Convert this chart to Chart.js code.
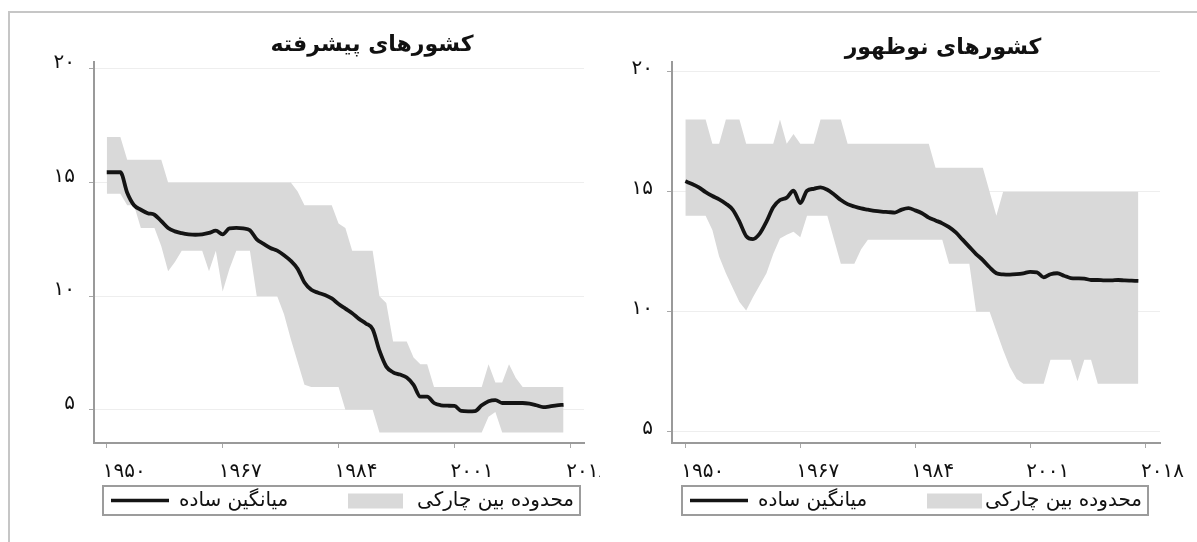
<!DOCTYPE html>
<html>
<head>
<meta charset="utf-8">
<script src="https://cdn.jsdelivr.net/npm/chart.js@4.4.1/dist/chart.umd.min.js"></script>
<style>
  body { margin: 0; background: #fff; }
  #wrap { position: relative; width: 1197px; height: 542px; overflow: hidden; }
  #frame { position: absolute; left: 8px; top: 11px; width: 1189px; height: 531px;
           border-top: 2px solid #c6c6c6; border-left: 2px solid #c6c6c6; }
  canvas { position: absolute; top: 0; }
</style>
</head>
<body>
<div id="wrap">
  <div id="frame"></div>
  <canvas id="adv" width="600" height="542" style="left:0"></canvas>
  <canvas id="emg" width="597" height="542" style="left:600px"></canvas>
</div>
<script>
// years on the x axis
const years = [
  1950, 1951, 1952, 1953, 1954, 1955, 1956, 1957, 1958, 1959,
  1960, 1961, 1962, 1963, 1964, 1965, 1966, 1967, 1968, 1969,
  1970, 1971, 1972, 1973, 1974, 1975, 1976, 1977, 1978, 1979,
  1980, 1981, 1982, 1983, 1984, 1985, 1986, 1987, 1988, 1989,
  1990, 1991, 1992, 1993, 1994, 1995, 1996, 1997, 1998, 1999,
  2000, 2001, 2002, 2003, 2004, 2005, 2006, 2007, 2008, 2009,
  2010, 2011, 2012, 2013, 2014, 2015, 2016, 2017
];

// advanced countries
const advMean = [
  15.45, 15.45, 15.45, 14.55, 14.0, 13.8, 13.65, 13.58, 13.3, 13.0,
  12.85, 12.77, 12.72, 12.7, 12.72, 12.78, 12.88, 12.72, 12.98, 13.0,
  12.98, 12.9, 12.5, 12.3, 12.12, 12.0, 11.8, 11.55, 11.2, 10.6,
  10.28, 10.15, 10.05, 9.9, 9.65, 9.45, 9.25, 9.0, 8.8, 8.55,
  7.6, 6.9, 6.65, 6.55, 6.42, 6.1, 5.58, 5.58, 5.3, 5.2,
  5.18, 5.17, 4.95, 4.93, 4.94, 5.2, 5.38, 5.43, 5.3, 5.3,
  5.3, 5.3, 5.27, 5.2, 5.12, 5.15, 5.2, 5.22
];
const advHigh = [
  17, 17, 17, 16, 16, 16, 16, 16, 16, 15,
  15, 15, 15, 15, 15, 15, 15, 15, 15, 15,
  15, 15, 15, 15, 15, 15, 15, 15, 14.6, 14,
  14, 14, 14, 14, 13.2, 13, 12, 12, 12, 12,
  10, 9.7, 8, 8, 8, 7.3, 7, 7, 6, 6,
  6, 6, 6, 6, 6, 6, 7, 6.2, 6.2, 7,
  6.4, 6, 6, 6, 6, 6, 6, 6
];
const advLow = [
  14.5, 14.5, 14.5, 14, 14, 13, 13, 13, 12.2, 11.1,
  11.5, 12, 12, 12, 12, 11.1, 12, 10.2, 11.2, 12,
  12, 12, 10, 10, 10, 10, 9.2, 8.1, 7.1, 6.1,
  6, 6, 6, 6, 6, 5, 5, 5, 5, 5,
  4, 4, 4, 4, 4, 4, 4, 4, 4, 4,
  4, 4, 4, 4, 4, 4, 4.7, 4.9, 4, 4,
  4, 4, 4, 4, 4, 4, 4, 4
];

// emerging countries
const emgMean = [
  15.43, 15.32, 15.18, 14.98, 14.82, 14.68, 14.5, 14.25, 13.75, 13.15,
  13.02, 13.25, 13.75, 14.35, 14.65, 14.75, 15.04, 14.52, 15.04, 15.12,
  15.18, 15.08, 14.88, 14.65, 14.48, 14.38, 14.3, 14.25, 14.2, 14.17,
  14.15, 14.13, 14.25, 14.31, 14.22, 14.1, 13.92, 13.8, 13.68, 13.52,
  13.3, 13.0, 12.7, 12.4, 12.15, 11.85, 11.6, 11.55, 11.54, 11.56,
  11.6, 11.66, 11.64, 11.43, 11.56, 11.6, 11.5, 11.4, 11.39, 11.38,
  11.32, 11.32, 11.3, 11.3, 11.32, 11.3, 11.29, 11.28
];
const emgHigh = [
  18, 18, 18, 18, 17, 17, 18, 18, 18, 17,
  17, 17, 17, 17, 18, 17, 17.4, 17, 17, 17,
  18, 18, 18, 18, 17, 17, 17, 17, 17, 17,
  17, 17, 17, 17, 17, 17, 17, 16, 16, 16,
  16, 16, 16, 16, 16, 15, 14, 15, 15, 15,
  15, 15, 15, 15, 15, 15, 15, 15, 15, 15,
  15, 15, 15, 15, 15, 15, 15, 15
];
const emgLow = [
  14, 14, 14, 14, 13.4, 12.3, 11.6, 11.0, 10.4, 10.05,
  10.6, 11.1, 11.6, 12.4, 13.05, 13.2, 13.33, 13.1, 14, 14,
  14, 14, 13, 12, 12, 12, 12.6, 13, 13, 13,
  13, 13, 13, 13, 13, 13, 13, 13, 13, 12,
  12, 12, 12, 10, 10, 10, 9.2, 8.4, 7.7, 7.2,
  7, 7, 7, 7, 8, 8, 8, 8, 7.1, 8,
  8, 7, 7, 7, 7, 7, 7, 7
];

const xTicks = [1950, 1967, 1984, 2001, 2018];
const yTicks = [5, 10, 15, 20];
const titles = ['کشورهای پیشرفته', 'کشورهای نوظهور'];
const legendLabels = ['میانگین ساده', 'محدوده بین چارکی'];

const faDigits = '۰۱۲۳۴۵۶۷۸۹';
const toFa = v => String(v).replace(/\d/g, d => faDigits[d]);
const pts = arr => years.map((yr, i) => ({ x: yr, y: arr[i] }));

Chart.defaults.font.family = '"DejaVu Sans", sans-serif';
Chart.defaults.color = '#111';

// panel heading, placed over the plot
const panelTitle = {
  id: 'panelTitle',
  afterDraw(chart, args, opts) {
    const ctx = chart.ctx;
    ctx.save();
    ctx.font = 'bold 22px "DejaVu Sans", sans-serif';
    ctx.fillStyle = '#111';
    ctx.textAlign = 'center';
    ctx.textBaseline = 'middle';
    ctx.fillText(opts.text, chart.chartArea.left + opts.dx, opts.y);
    ctx.restore();
  }
};

// boxed legend under the axis: line key + label, band key + label
const panelLegend = {
  id: 'panelLegend',
  afterDraw(chart, args, opts) {
    const ctx = chart.ctx;
    const ds = chart.data.datasets;
    const l = chart.chartArea.left + opts.boxL, r = chart.chartArea.left + opts.boxR;
    const t = opts.top, b = opts.top + 29, cy = (t + b) / 2;
    ctx.save();
    ctx.fillStyle = ds[1].backgroundColor;
    ctx.fillRect(l + 245, cy - 7, 55, 15);
    ctx.strokeStyle = ds[0].borderColor;
    ctx.lineWidth = 3.5;
    ctx.beginPath();
    ctx.moveTo(l + 8, cy);
    ctx.lineTo(l + 66, cy);
    ctx.stroke();
    ctx.font = '20px "DejaVu Sans", sans-serif';
    ctx.fillStyle = '#111';
    ctx.textBaseline = 'middle';
    ctx.textAlign = 'left';
    ctx.fillText(legendLabels[0], l + 76, cy);
    ctx.textAlign = 'right';
    ctx.fillText(legendLabels[1], r - 6, cy);
    ctx.strokeStyle = '#9c9c9c';
    ctx.lineWidth = 2;
    ctx.strokeRect(l, t, r - l, b - t);
    ctx.restore();
  }
};

// keep the plot box fixed; labels may run past it
const noPad = s => { s.paddingLeft = 0; s.paddingRight = 0; s.paddingTop = 0; s.paddingBottom = 0; };

function makePanel(id, mean, low, high, p) {
  const data = {
    datasets: [{
      label: legendLabels[0],
      data: pts(mean),
      borderColor: '#141414',
      borderWidth: 3.8,
      pointRadius: 0,
      cubicInterpolationMode: 'monotone',
      fill: false
    },
    {
      label: legendLabels[1],
      data: pts(high),
      borderColor: '#d9d9d9',
      backgroundColor: '#d9d9d9',
      borderWidth: 0,
      pointRadius: 0,
      tension: 0,
      fill: '+1'
    },
    {
      label: 'low',
      data: pts(low),
      borderColor: '#d9d9d9',
      borderWidth: 0,
      pointRadius: 0,
      tension: 0,
      fill: false
    }]
  };
  const config = {
    type: 'line',
    data: data,
    plugins: [panelTitle, panelLegend],
    options: {
      responsive: false,
      animation: false,
      layout: {
        autoPadding: false,
        padding: { top: 62, right: p.right, bottom: 59, left: 0 }
      },
      plugins: {
        tooltip: { enabled: false },
        legend: { display: false },
        panelTitle: { text: p.title, dx: p.titleDx, y: p.titleY },
        panelLegend: { boxL: p.boxL, boxR: p.boxR, top: 486 }
      },
      scales: {
        x: {
          type: 'linear',
          min: p.xMin,
          max: p.xMax,
          border: { color: '#9a9a9a', width: 2 },
          grid: { drawOnChartArea: false, tickLength: 5, tickColor: '#a8a8a8' },
          ticks: {
            font: { size: 20 },
            color: '#111',
            padding: 12,
            align: 'start',
            labelOffset: -4,
            maxRotation: 0,
            autoSkip: false,
            callback: v => toFa(v)
          },
          afterBuildTicks: s => { s.ticks = xTicks.map(v => ({ value: v })); },
          afterFit: s => { s.height = 40; noPad(s); }
        },
        y: {
          type: 'linear',
          min: p.yMin,
          max: p.yMax,
          border: { color: '#9a9a9a', width: 2 },
          grid: { color: '#eeeeee', lineWidth: 1, tickLength: 5, tickColor: '#a8a8a8' },
          ticks: {
            font: { size: 20 },
            color: '#111',
            padding: 14,
            labelOffset: p.yLabelOffset,
            callback: v => toFa(v)
          },
          afterBuildTicks: s => { s.ticks = yTicks.map(v => ({ value: v })); },
          afterFit: s => { s.width = p.left; noPad(s); }
        }
      }
    }
  };
  return new Chart(document.getElementById(id), config);
}

makePanel('adv', advMean, advLow, advHigh, {
  title: titles[0], titleDx: 278, titleY: 45,
  left: 94, right: 16, boxL: 9, boxR: 486,
  xMin: 1948.13, xMax: 2020, yMin: 3.54, yMax: 20.3, yLabelOffset: -6
});
makePanel('emg', emgMean, emgLow, emgHigh, {
  title: titles[1], titleDx: 271, titleY: 48,
  left: 72, right: 37, boxL: 10, boxR: 476,
  xMin: 1948.03, xMax: 2020.2, yMin: 4.53, yMax: 20.4, yLabelOffset: -3
});
</script>
</body>
</html>
